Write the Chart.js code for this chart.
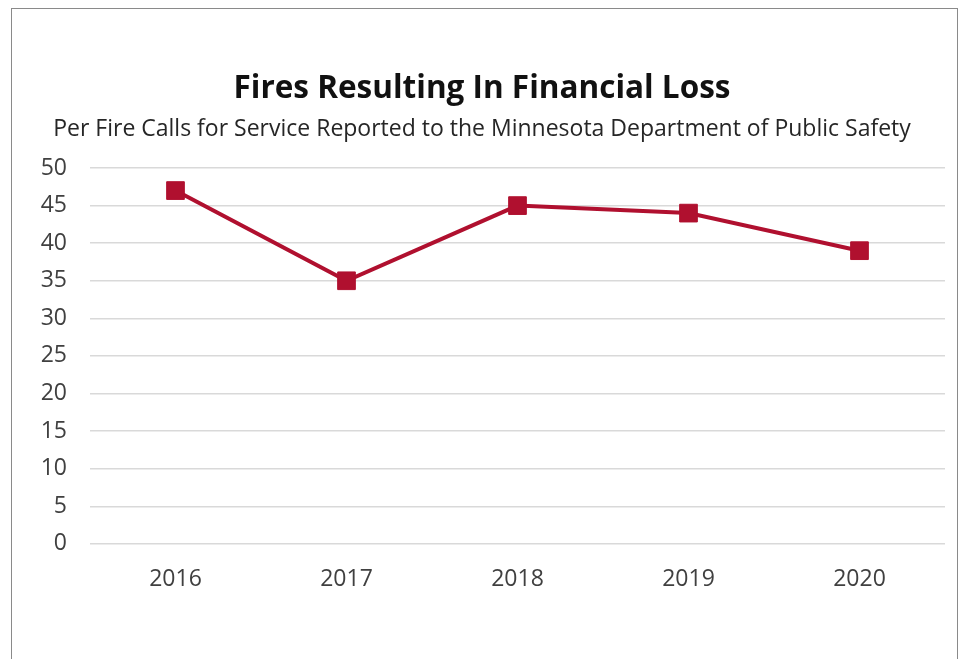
<!DOCTYPE html>
<html>
<head>
<meta charset="utf-8">
<script src="https://cdn.jsdelivr.net/npm/chart.js@4"></script>
<style>
    html, body { margin: 0; padding: 0; background: #fff; overflow: hidden; }
    #frame {
        position: absolute; left: 11px; top: 8px; width: 947px; height: 700px;
        border: 1px solid #8a8a8a; box-sizing: border-box;
    }
    #wrap { position: absolute; left: 0; top: 0; width: 963px; height: 659px; }
</style>
</head>
<body>
<div id="frame"></div>
<div id="wrap"><canvas id="fireChart" width="963" height="659"></canvas></div>
<script>
const years = ["2016", "2017", "2018", "2019", "2020"];
const fireLossValues = [47, 35, 45, 44, 39];
const yTicks = [0, 5, 10, 15, 20, 25, 30, 35, 40, 45, 50];

const chartTitle = "Fires Resulting In Financial Loss";
const chartSubtitle = "Per Fire Calls for Service Reported to the Minnesota Department of Public Safety";

document.addEventListener("DOMContentLoaded", () => {
    const lineColor = "#b0102f";
    const fontFamily = "'Open Sans', 'Noto Sans', sans-serif";

    const ctx = document.getElementById("fireChart").getContext("2d");
    new Chart(ctx, {
        type: "line",
        data: {
            labels: years,
            datasets: [{
                data: fireLossValues,
                borderColor: lineColor,
                backgroundColor: lineColor,
                borderWidth: 4,
                pointStyle: "rect",
                pointRadius: 12.5,
                pointBorderWidth: 1,
                pointHoverRadius: 12.5,
                tension: 0,
            }],
        },
        options: {
            responsive: false,
            animation: false,
            layout: {
                padding: { left: 19, right: 18, top: 62, bottom: 43.5 },
            },
            plugins: {
                legend: { display: false },
                tooltip: { enabled: false },
                title: {
                    display: true,
                    text: chartTitle,
                    color: "#111",
                    font: { family: fontFamily, size: 31.5, weight: "bold", lineHeight: 1.2 },
                    padding: { top: 8.6, bottom: 0 },
                },
                subtitle: {
                    display: true,
                    text: chartSubtitle,
                    color: "#262626",
                    font: { family: fontFamily, size: 23, lineHeight: 1.2 },
                    padding: { top: 7, bottom: 25 },
                },
            },
            scales: {
                x: {
                    offset: true,
                    grid: { display: false, drawTicks: false },
                    border: { display: false },
                    ticks: {
                        color: "#404040",
                        padding: 22,
                        font: { family: fontFamily, size: 23 },
                    },
                },
                y: {
                    min: 0,
                    max: 50,
                    afterBuildTicks: (scale) => {
                        scale.ticks = yTicks.map((v) => ({ value: v }));
                    },
                    // keep the plot's left edge at x = 90
                    afterFit: (scale) => { scale.width = 71; },
                    grid: { color: "#d9d9d9", lineWidth: 1.5, drawTicks: false },
                    border: { display: false },
                    ticks: {
                        color: "#404040",
                        padding: 23,
                        font: { family: fontFamily, size: 23 },
                    },
                },
            },
        },
    });
});
</script>
</body>
</html>
